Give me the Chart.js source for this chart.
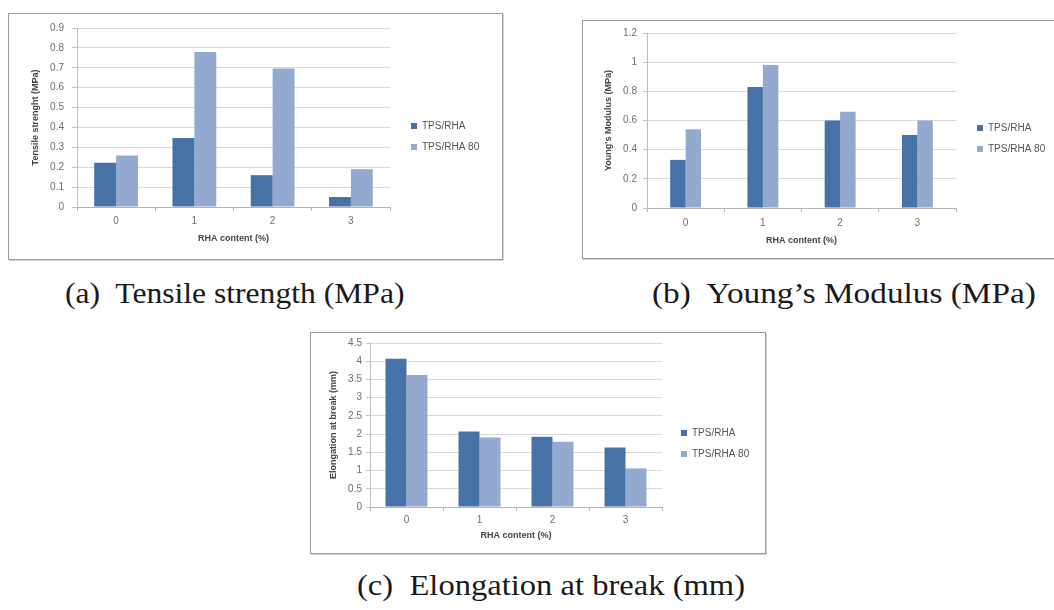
<!DOCTYPE html>
<html>
<head>
<meta charset="utf-8">
<script src="https://cdn.jsdelivr.net/npm/chart.js@4.4.1/dist/chart.umd.min.js"></script>
<style>
html, body { margin: 0; padding: 0; background: #fff; width: 1054px; height: 610px; overflow: hidden; }
.panel { position: absolute; box-sizing: border-box; border: 1px solid #9c9c9c; box-shadow: 1px 1px 0 #d2d2d2; background: #fff; }
canvas { position: absolute; }
.cap { position: absolute; font-family: "Liberation Serif", "DejaVu Serif", serif; font-size: 29px; line-height: 29px; white-space: pre; color: #1a1a1a; transform-origin: 0 0; }
</style>
</head>
<body>
<script>
// ---------------- data ----------------
const categories = ['0', '1', '2', '3'];
const seriesLabels = ['TPS/RHA', 'TPS/RHA 80'];

const tensileTPSRHA   = [0.223, 0.347, 0.160, 0.050];
const tensileTPSRHA80 = [0.259, 0.779, 0.696, 0.190];

const youngTPSRHA   = [0.33, 0.83, 0.60, 0.50];
const youngTPSRHA80 = [0.54, 0.98, 0.66, 0.60];

const elongTPSRHA   = [4.07, 2.07, 1.93, 1.63];
const elongTPSRHA80 = [3.62, 1.91, 1.79, 1.06];

const tensileTicks = ['0', '0.1', '0.2', '0.3', '0.4', '0.5', '0.6', '0.7', '0.8', '0.9'];
const youngTicks   = ['0', '0.2', '0.4', '0.6', '0.8', '1', '1.2'];
const elongTicks   = ['0', '0.5', '1', '1.5', '2', '2.5', '3', '3.5', '4', '4.5'];

const xAxisTitle = 'RHA content (%)';
const yAxisTitles = ['Tensile strenght (MPa)', "Young's Modulus (MPa)", 'Elongation at break (mm)'];
const captions = ['(a)  Tensile strength (MPa)', '(b)  Young\u2019s Modulus (MPa)', '(c)  Elongation at break (mm)'];

// ---------------- styling / layout ----------------
const COLOR1 = '#4672a8';
const COLOR2 = '#93a9cf';
const SANS = '"Liberation Sans", Arial, sans-serif';

const specs = [
  { panel: {x: 8, y: 13, w: 495, h: 247}, canvas: {x: 9, y: 14, w: 493, h: 245},
    plot: {l: 77, t: 25, r: 390, b: 207}, legendX: 411, legendY: 126, yTitleX: 35, xLabelY: 221, xTitleY: 239,
    yTickLen: 5, yTickPad: 8, cat: 0.56, max: 0.9, step: 0.1, ticks: tensileTicks,
    s1: tensileTPSRHA, s2: tensileTPSRHA80, yTitle: yAxisTitles[0] },
  { panel: {x: 582, y: 20, w: 480, h: 239}, canvas: {x: 583, y: 21, w: 471, h: 237},
    plot: {l: 647, t: 32, r: 956, b: 208}, legendX: 977, legendY: 128, yTitleX: 608, xLabelY: 223, xTitleY: 241,
    yTickLen: 4, yTickPad: 6, cat: 0.40, max: 1.2, step: 0.2, ticks: youngTicks,
    s1: youngTPSRHA, s2: youngTPSRHA80, yTitle: yAxisTitles[1] },
  { panel: {x: 310, y: 332, w: 456, h: 222}, canvas: {x: 311, y: 333, w: 454, h: 220},
    plot: {l: 370, t: 343, r: 662, b: 507}, legendX: 681, legendY: 433, yTitleX: 333, xLabelY: 520, xTitleY: 536,
    yTickLen: 4, yTickPad: 4, cat: 0.575, max: 4.5, step: 0.5, ticks: elongTicks,
    s1: elongTPSRHA, s2: elongTPSRHA80, yTitle: yAxisTitles[2] }
];

const TICK_FS = 10, TITLE_FS = 9, LEGEND_FS = 10;

function build(spec) {
  const pd = document.createElement('div');
  pd.className = 'panel';
  Object.assign(pd.style, {left: spec.panel.x + 'px', top: spec.panel.y + 'px', width: spec.panel.w + 'px', height: spec.panel.h + 'px'});
  document.body.appendChild(pd);

  const cv = spec.canvas, plot = spec.plot;
  const el = document.createElement('canvas');
  el.width = cv.w; el.height = cv.h;
  Object.assign(el.style, {left: cv.x + 'px', top: cv.y + 'px', width: cv.w + 'px', height: cv.h + 'px'});
  document.body.appendChild(el);

  const titleLH = TITLE_FS * 1.2, tickLH = TICK_FS * 1.2;
  const legendShift = {
    id: 'legendShift',
    afterLayout(chart) {
      const lg = chart.legend; if (!lg) return;
      const pad = lg.options.labels.padding;
      const dx = (spec.legendX - cv.x) - (lg.left + pad);
      lg.left += dx; lg.right += dx;
      if (lg.columnSizes && lg.columnSizes[0]) {
        const itemH = Math.max(LEGEND_FS, lg.options.labels.boxHeight);
        const cursorY = ((lg.top + pad) + (lg.bottom - lg.columnSizes[0].height)) / 2;
        const dy = (spec.legendY - cv.y) - (cursorY + itemH / 2);
        lg.top += dy; lg.bottom += dy;
      }
    }
  };

  const chart = new Chart(el, {
    type: 'bar',
    data: {
      labels: categories,
      datasets: [
        {label: seriesLabels[0], data: spec.s1, backgroundColor: COLOR1, borderWidth: 0, barPercentage: 1, categoryPercentage: spec.cat},
        {label: seriesLabels[1], data: spec.s2, backgroundColor: COLOR2, borderWidth: 0, barPercentage: 1, categoryPercentage: spec.cat}
      ]
    },
    options: {
      responsive: false, animation: false, devicePixelRatio: 1,
      layout: {padding: {top: plot.t - cv.y, left: 0, bottom: 0, right: 0}},
      plugins: {
        legend: {position: 'right', align: 'center',
          labels: {boxWidth: 6, boxHeight: 6, padding: 11, color: '#555555', font: {family: SANS, size: LEGEND_FS}}},
        tooltip: {enabled: false},
        title: {display: false}
      },
      scales: {
        x: {
          grid: {display: true, drawOnChartArea: false, offset: true, tickLength: 4, color: '#b3b3b3'},
          border: {color: '#b3b3b3'},
          ticks: {color: '#6e6e6e', font: {family: SANS, size: TICK_FS}, padding: Math.round(spec.xLabelY - plot.b - 4 - tickLH / 2)},
          title: {display: true, text: xAxisTitle, color: '#444444', font: {family: SANS, size: TITLE_FS, weight: 'bold'},
            padding: {top: 0, bottom: Math.round(cv.y + cv.h - spec.xTitleY - titleLH / 2)}},
          afterFit(s) { s.height = cv.y + cv.h - plot.b; }
        },
        y: {
          min: 0, max: spec.max,
          ticks: {stepSize: spec.step, color: '#6e6e6e', font: {family: SANS, size: TICK_FS}, padding: spec.yTickPad,
            callback: (v) => spec.ticks[Math.round(v / spec.step)]},
          grid: {color: '#d9d9d9', tickLength: spec.yTickLen, tickColor: '#c4c4c4'},
          border: {color: '#bdbdbd'},
          title: {display: true, text: spec.yTitle, color: '#444444', font: {family: SANS, size: TITLE_FS, weight: 'bold'},
            padding: {top: Math.round(spec.yTitleX - cv.x - titleLH / 2), bottom: 0}},
          afterFit(s) { s.width = plot.l - cv.x; }
        }
      }
    },
    plugins: [legendShift]
  });

  const extra = chart.chartArea.right - (plot.r - cv.x);
  chart.options.layout.padding = {top: plot.t - cv.y, left: 0, bottom: 0, right: Math.max(0, extra)};
  chart.update();
  return chart;
}

specs.forEach(build);

// ---------------- captions ----------------
const capPos = [
  {x: 65, w: 340, baseline: 303},
  {x: 652, w: 385, baseline: 303},
  {x: 357, w: 388, baseline: 595}
];
const mctx = document.createElement('canvas').getContext('2d');
captions.forEach((t, i) => {
  const p = capPos[i];
  const fs = 29;
  mctx.font = fs + 'px "Liberation Serif"';
  const m = mctx.measureText(t);
  const asc = m.fontBoundingBoxAscent || fs * 0.891;
  const desc = m.fontBoundingBoxDescent || fs * 0.216;
  const d = document.createElement('div');
  d.className = 'cap';
  d.textContent = t;
  const top = p.baseline - ((fs - (asc + desc)) / 2 + asc);
  d.style.left = p.x + 'px';
  d.style.top = top + 'px';
  d.style.transform = 'scaleX(' + (p.w / m.width) + ')';
  document.body.appendChild(d);
});
</script>
</body>
</html>
